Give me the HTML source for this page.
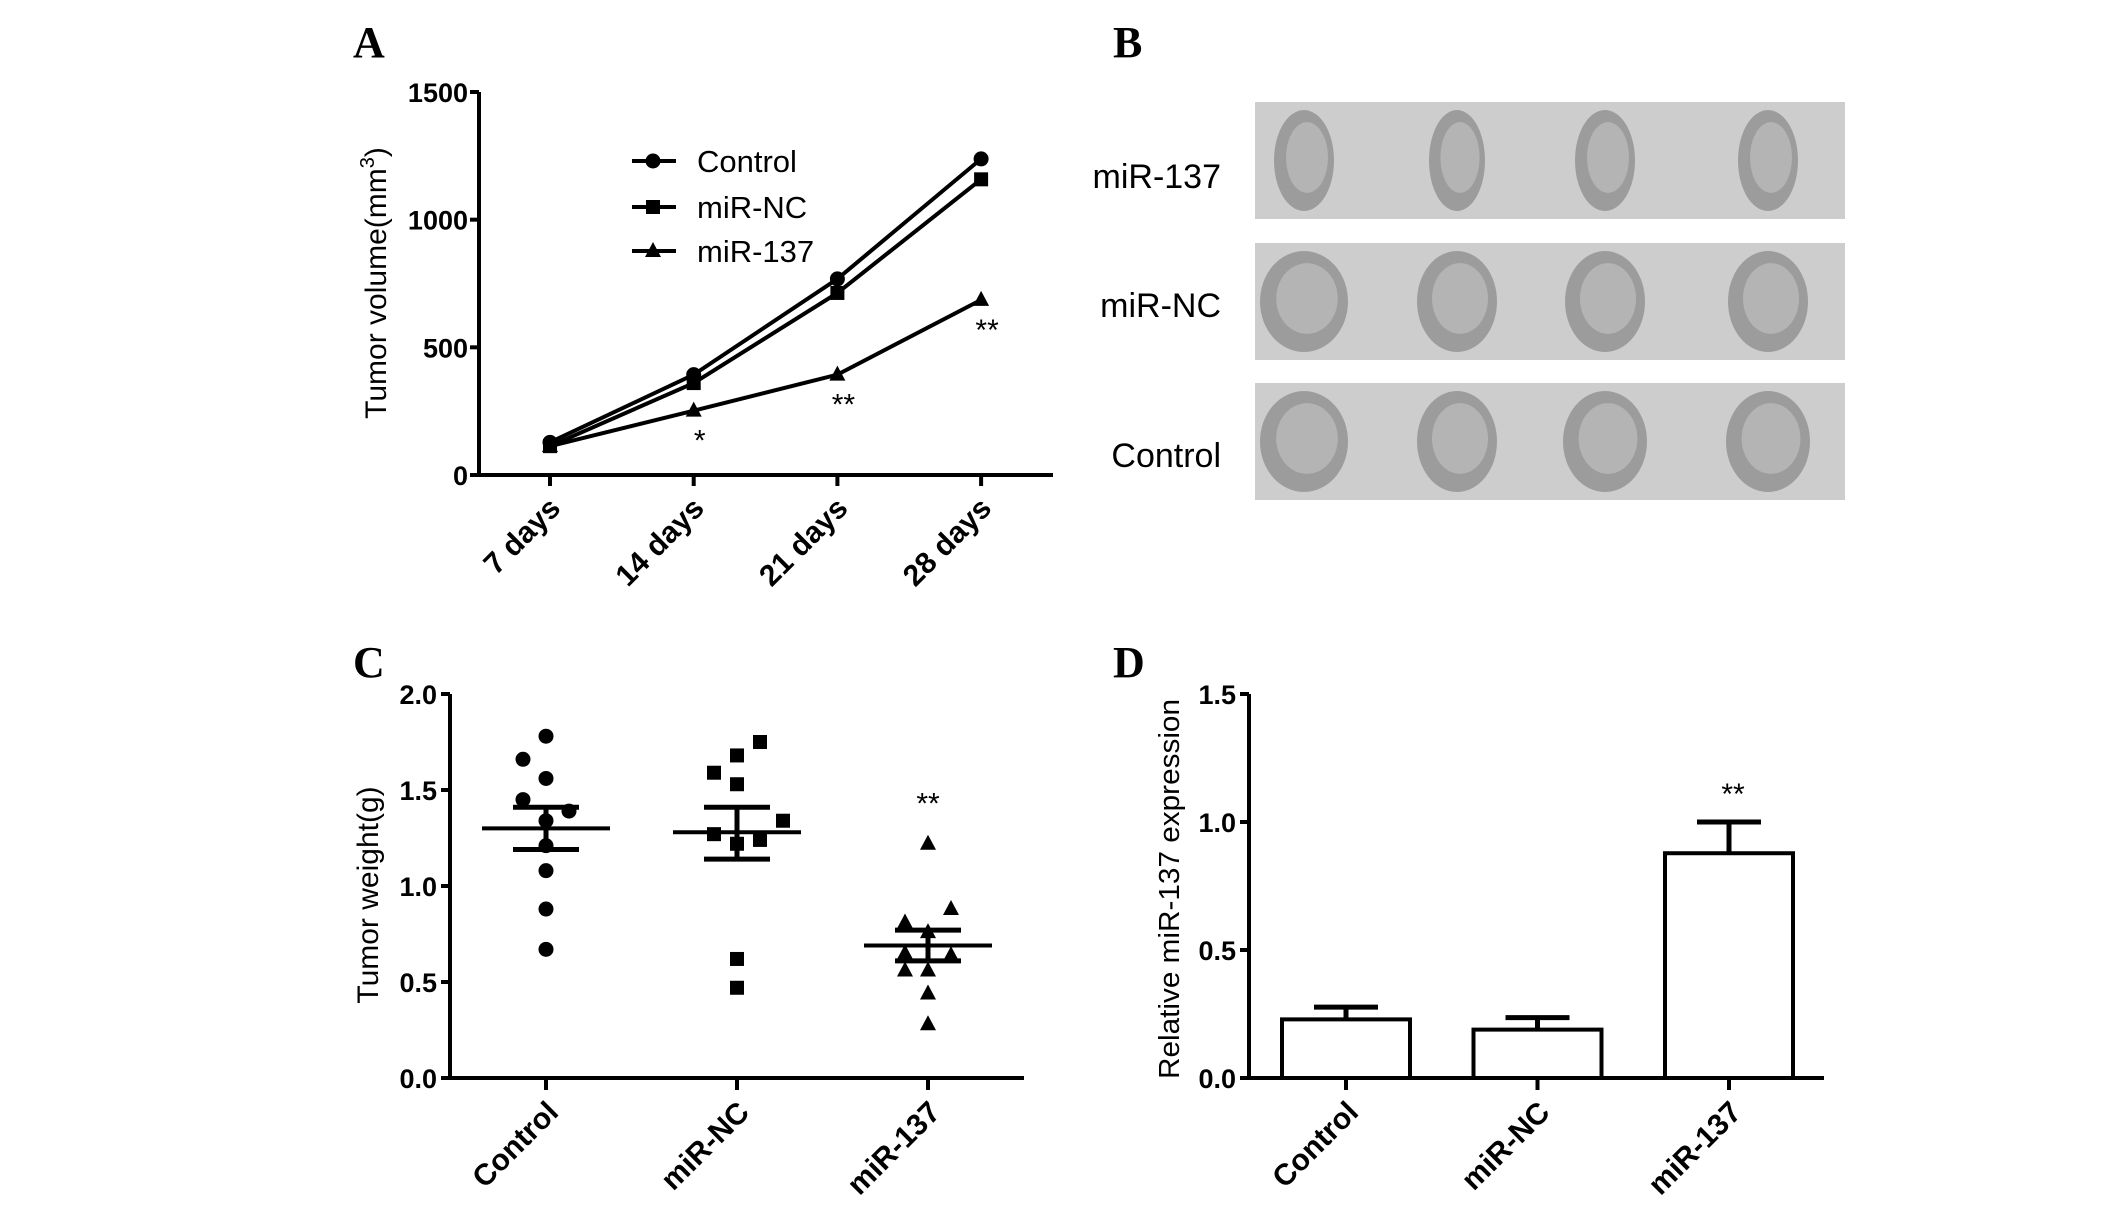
<!DOCTYPE html>
<html><head><meta charset="utf-8"><style>
html,body{margin:0;padding:0;background:#fff}
svg{display:block}
text{font-family:"Liberation Sans",sans-serif;fill:#000}
.pl{font-family:"Liberation Serif",serif;font-weight:bold;font-size:44px}
.tk{font-weight:bold;font-size:27px}
.xl{font-weight:bold;font-size:30px}
</style></head><body>
<svg id="fig" width="2126" height="1214" viewBox="0 0 2126 1214" xmlns="http://www.w3.org/2000/svg">
<text class="pl" x="353" y="57">A</text>
<text class="pl" x="1113" y="57">B</text>
<text class="pl" x="353" y="677">C</text>
<text class="pl" x="1113" y="677">D</text>
<g id="panelA"></g>
<g id="panelB"></g>
<g id="panelC"></g>
<g id="panelD"></g>
</svg>
<script>
const aDays=["7 days","14 days","21 days","28 days"];
const aControl=[128,393,768,1238];
const aNC=[113,360,713,1158];
const a137=[113,252,393,686];
const aTicks=[0,500,1000,1500];
const aStars=["","*","**","**"];
const cCats=["Control","miR-NC","miR-137"];
const cControl=[1.78,1.66,1.56,1.45,1.39,1.34,1.21,1.08,0.88,0.67];
const cControlJit=[0,-1,0,-1,1,0,0,0,0,0];
const cNC=[1.75,1.68,1.59,1.53,1.34,1.27,1.24,1.22,0.62,0.47];
const cNCJit=[1,0,-1,0,2,-1,1,0,0,0];
const c137=[1.22,0.88,0.81,0.76,0.65,0.64,0.56,0.56,0.44,0.28];
const c137Jit=[0,1,-1,0,-1,1,-1,0,0,0];
const cMean=[1.30,1.28,0.69];
const cSemHi=[1.41,1.41,0.77];
const cSemLo=[1.19,1.14,0.61];
const cTicks=["0.0","0.5","1.0","1.5","2.0"];
const dCats=["Control","miR-NC","miR-137"];
const dVals=[0.229,0.189,0.878];
const dErr=[0.277,0.236,1.0];
const dTicks=["0.0","0.5","1.0","1.5"];
const bRows=["miR-137","miR-NC","Control"];

const NS="http://www.w3.org/2000/svg";
function mk(parent,tag,attrs,txt){const e=document.createElementNS(NS,tag);for(const k in attrs)e.setAttribute(k,attrs[k]);if(txt!==undefined)e.textContent=txt;parent.appendChild(e);return e;}

/* Panel A */
const A=document.getElementById('panelA');
const axX=i=>550+i*143.7, ayY=v=>475-v/1500*383;
let e;
e=mk(A,'path',{d:"M479 92 V475 H1053",stroke:"#000","stroke-width":4,fill:"none"});


aTicks.forEach(t=>{
 e=mk(A,'line',{x1:470,x2:479,y1:ayY(t),y2:ayY(t),stroke:"#000","stroke-width":4});
 
 
 e=mk(A,'text',{x:468,y:ayY(t)+10,class:"tk","text-anchor":"end"},String(t));
 
 
});
aDays.forEach((d,i)=>{
 e=mk(A,'line',{x1:axX(i),x2:axX(i),y1:475,y2:486,stroke:"#000","stroke-width":4});
 
 
 e=mk(A,'text',{class:"xl","text-anchor":"end",transform:`translate(${axX(i)+12},${510}) rotate(-45)`},d);
 
 
});
e=mk(A,'text',{"font-size":30,"text-anchor":"middle",transform:"translate(386,283) rotate(-90)"});


e.innerHTML='Tumor volume(mm<tspan dy="-12" font-size="20">3</tspan><tspan dy="12">)</tspan>';
function marker(g,type,x,y){
 if(type==='circle')return mk(g,'circle',{cx:x,cy:y,r:7.5,fill:"#000"});
 if(type==='square')return mk(g,'rect',{x:x-7,y:y-7,width:14,height:14,fill:"#000"});
 return mk(g,'path',{d:`M${x} ${y-9} L${x+8} ${y+6} L${x-8} ${y+6} Z`,fill:"#000"});
}
[[aControl,'circle','control'],[aNC,'square','mir-nc'],[a137,'triangle','mir-137']].forEach(([vals,t,n])=>{
 e=mk(A,'polyline',{points:vals.map((v,i)=>axX(i)+','+ayY(v)).join(' '),stroke:"#000","stroke-width":4,fill:"none"});
 
 
 vals.forEach((v,i)=>{e=marker(A,t,axX(i),ayY(v));
  
  });
});
a137.forEach((v,i)=>{if(!aStars[i])return;
 e=mk(A,'text',{x:axX(i)+6,y:ayY(v)+40,"font-size":30,"text-anchor":"middle"},aStars[i]);
 
 
});
[['Control','circle',161],['miR-NC','square',207],['miR-137','triangle',251]].forEach(([l,t,y])=>{
 e=mk(A,'line',{x1:632,x2:676,y1:y,y2:y,stroke:"#000","stroke-width":4});
 
 
 e=marker(A,t,653,y);
 
 
 e=mk(A,'text',{x:697,y:y+11,"font-size":31},l);
 
 
});

/* Panel B */
const B=document.getElementById('panelB');
const rowsY=[[102,219],[243,360],[383,500]];
const blobX=[1304,1457,1605,1768];
const blobW=[[30,28,30,30],[44,40,40,40],[44,40,42,42]];
bRows.forEach((r,i)=>{
 const [y0,y1]=rowsY[i];
 e=mk(B,'rect',{x:1255,y:y0,width:590,height:y1-y0,fill:"#cdcdcd"});
 
 
 blobX.forEach((x,j)=>{
  const ry=(y1-y0)/2-8;
  e=mk(B,'ellipse',{cx:x,cy:(y0+y1)/2,rx:blobW[i][j],ry:ry,fill:"#9c9c9c"});
  
  
  mk(B,'ellipse',{cx:x+3,cy:(y0+y1)/2-3,rx:blobW[i][j]*0.7,ry:ry*0.7,fill:"#b4b4b4"});
 });
 e=mk(B,'text',{x:1221,y:[176,305,455][i]+12,"font-size":34,"text-anchor":"end"},r);
 
 
});

/* Panel C */
const C=document.getElementById('panelC');
const cx=i=>546+i*191, cy=v=>1078-v/2*384;
e=mk(C,'path',{d:"M450 694 V1078 H1024",stroke:"#000","stroke-width":4,fill:"none"});


cTicks.forEach(t=>{const y=cy(parseFloat(t));
 e=mk(C,'line',{x1:441,x2:450,y1:y,y2:y,stroke:"#000","stroke-width":4});
 
 
 e=mk(C,'text',{x:437,y:y+10,class:"tk","text-anchor":"end"},t);
 
 
});
cCats.forEach((c,i)=>{
 e=mk(C,'line',{x1:cx(i),x2:cx(i),y1:1078,y2:1090,stroke:"#000","stroke-width":4});
 
 
 e=mk(C,'text',{class:"xl","text-anchor":"end",transform:`translate(${cx(i)+14},${1114}) rotate(-45)`},c);
 
 
});
e=mk(C,'text',{"font-size":30,"text-anchor":"middle",transform:"translate(378,895) rotate(-90)"},"Tumor weight(g)");


[[cControl,cControlJit,'circle'],[cNC,cNCJit,'square'],[c137,c137Jit,'triangle']].forEach(([vals,jit,t],i)=>{
 vals.forEach((v,k)=>{e=marker(C,t,cx(i)+jit[k]*23,cy(v));
  
  });
 e=mk(C,'line',{x1:cx(i)-64,x2:cx(i)+64,y1:cy(cMean[i]),y2:cy(cMean[i]),stroke:"#000","stroke-width":4});
 
 
 e=mk(C,'path',{d:`M${cx(i)-33} ${cy(cSemHi[i])} H${cx(i)+33} M${cx(i)} ${cy(cSemHi[i])} V${cy(cSemLo[i])} M${cx(i)-33} ${cy(cSemLo[i])} H${cx(i)+33}`,stroke:"#000","stroke-width":5,fill:"none"});
 
 
});
e=mk(C,'text',{x:cx(2),y:cy(1.45)+14,"font-size":30,"text-anchor":"middle"},"**");



/* Panel D */
const D=document.getElementById('panelD');
const dx=i=>1346+i*191.5, dy=v=>1078-v/1.5*384;
dCats.forEach((c,i)=>{
 e=mk(D,'path',{d:`M${dx(i)} ${dy(dVals[i])} V${dy(dErr[i])} M${dx(i)-32} ${dy(dErr[i])} H${dx(i)+32}`,stroke:"#000","stroke-width":5,fill:"none"});
 
 
 e=mk(D,'rect',{x:dx(i)-64,y:dy(dVals[i]),width:128,height:1078-dy(dVals[i]),fill:"#fff",stroke:"#000","stroke-width":4});
 
 
 e=mk(D,'line',{x1:dx(i),x2:dx(i),y1:1078,y2:1090,stroke:"#000","stroke-width":4});
 
 
 e=mk(D,'text',{class:"xl","text-anchor":"end",transform:`translate(${dx(i)+14},${1114}) rotate(-45)`},c);
 
 
});
e=mk(D,'path',{d:"M1249 694 V1078 H1824",stroke:"#000","stroke-width":4,fill:"none"});


dTicks.forEach(t=>{const y=dy(parseFloat(t));
 e=mk(D,'line',{x1:1240,x2:1249,y1:y,y2:y,stroke:"#000","stroke-width":4});
 
 
 e=mk(D,'text',{x:1236,y:y+10,class:"tk","text-anchor":"end"},t);
 
 
});
e=mk(D,'text',{"font-size":29,"text-anchor":"middle",textLength:380,lengthAdjust:"spacingAndGlyphs",transform:"translate(1179,889) rotate(-90)"},"Relative miR-137 expression");


e=mk(D,'text',{x:dx(2)+4,y:dy(dErr[2])-18,"font-size":30,"text-anchor":"middle"},"**");


</script>
</body></html>
